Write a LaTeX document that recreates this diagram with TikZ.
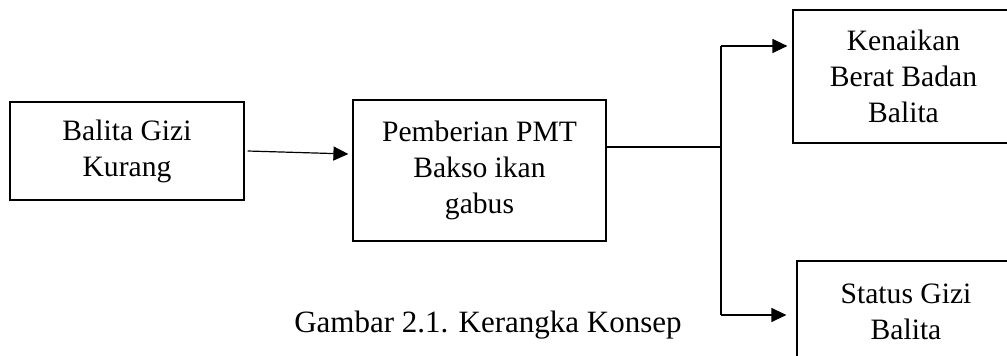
\documentclass[tikz,border=0pt]{standalone}
\usepackage{fontspec}
\setmainfont{Liberation Serif}
\usetikzlibrary{arrows.meta}

\tikzset{
  konsep/.style={draw, line width=1.2pt, align=center, inner sep=0pt,
    font=\fontsize{29.6}{36}\selectfont},
  panah/.style={-{Triangle[length=15pt,width=14pt]}, line width=1.2pt},
}

\begin{document}
\begin{tikzpicture}[x=1pt,y=-1pt]
  \path[use as bounding box, clip] (0,0) rectangle (1007,356);

  % Define boxes
  \node[konsep, minimum width=234pt, minimum height=98pt] (balita) at (127,151)
    {Balita Gizi\\Kurang};
  \node[konsep, minimum width=253pt, minimum height=141pt] (pmt) at (479.5,170.5)
    {Pemberian PMT\\Bakso ikan\\gabus};
  \node[konsep, minimum width=221pt, minimum height=133pt] (berat) at (903.5,76.5)
    {Kenaikan\\Berat Badan\\Balita};
  \node[konsep, minimum width=218pt, minimum height=101pt] (status) at (906,311.5)
    {Status Gizi\\Balita};
  \node[font=\fontsize{31}{36}\selectfont, anchor=base] (judul) at (488,332)
    {Gambar 2.1. Kerangka Konsep};

  % Branch points
  \coordinate (cabang) at (721,147);
  \coordinate (atas) at (721,46);
  \coordinate (bawah) at (721,315);

  % Draw connectors
  \draw[panah] ([xshift=3pt]balita.east) -- ([xshift=-4pt,yshift=-3pt]balita.east -| pmt.west);
  \draw[line width=1.2pt] (pmt.east |- cabang) -- (cabang);
  \draw[line width=1.2pt] (atas) -- (bawah);
  \draw[panah, shorten >=5pt] (atas) -- (berat.west |- atas);
  \draw[panah, shorten >=10pt] (bawah) -- (status.west |- bawah);
\end{tikzpicture}
\end{document}
